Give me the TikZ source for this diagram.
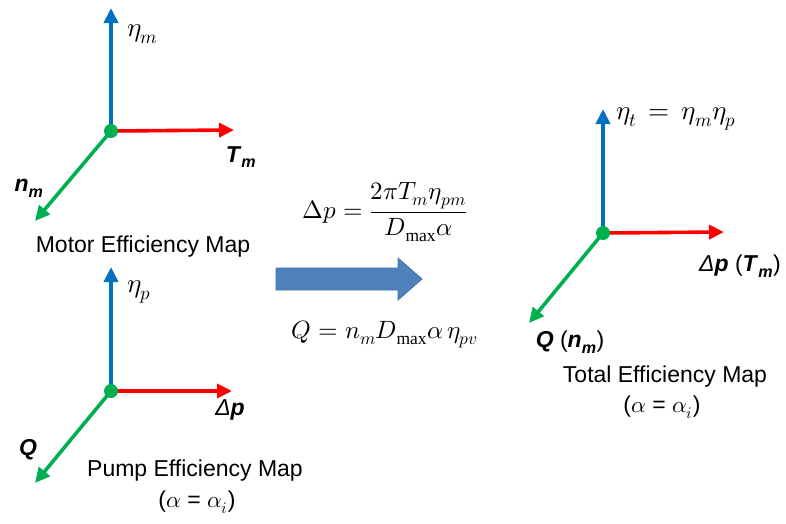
\documentclass[tikz,border=0pt]{standalone}
\usepackage{fontspec}
\usepackage{unicode-math}
\setmainfont{Liberation Sans}
\setmathrm{Liberation Serif}
\usetikzlibrary{arrows.meta}
\definecolor{axblue}{HTML}{0070C0}
\definecolor{axred}{HTML}{FF0000}
\definecolor{axgreen}{HTML}{00B050}
\definecolor{bigfill}{HTML}{4F81BD}
\definecolor{bigedge}{HTML}{41719C}
\tikzset{
  axis/.style={line width=3.6pt, -{Triangle[length=15pt,width=14pt]}},
  zax/.style={axis, axblue},
  xax/.style={axis, axred},
  yax/.style={axis, axgreen},
  origin/.style={circle, fill=axgreen, inner sep=0pt, minimum size=14pt},
  lab/.style={inner sep=1pt, font=\fontsize{23}{27}\selectfont},
  mlab/.style={inner sep=1pt, font=\fontsize{27}{31}\selectfont},
  flab/.style={inner sep=1pt, font=\fontsize{25}{29}\selectfont},
}
\newcommand{\bi}[1]{\textbf{\textit{#1}}}
\begin{document}
\begin{tikzpicture}[x=1pt,y=-1pt]
\useasboundingbox (0,0) rectangle (786,523);
% ---------- Motor ----------
\coordinate (mo) at (111,131);
\coordinate (mz) at (111,8);
\coordinate (mx) at (234,130);
\coordinate (my) at (35,221);
\draw[zax] (mo) -- (mz);
\draw[xax] (mo) -- (mx);
\draw[yax] (mo) -- (my);
\node[origin] (mdot) at (mo) {};
\node[mlab, anchor=west] (meta) at (126,34) {$\eta_m$};
\node[lab] (mT) at (241,157) {\bi{T}\textsubscript{\bi{m}}};
\node[lab] (mn) at (29,188) {\bi{n}\textsubscript{\bi{m}}};
\node[lab] (mtitle) at (143,247) {Motor Efficiency Map};
% ---------- Pump ----------
\coordinate (po) at (111,391);
\coordinate (pz) at (111,267);
\coordinate (px) at (232,391);
\coordinate (py) at (35,483);
\draw[zax] (po) -- (pz);
\draw[xax] (po) -- (px);
\draw[yax] (po) -- (py);
\node[origin] (pdot) at (po) {};
\node[mlab, anchor=west] (peta) at (126,292) {$\eta_p$};
\node[lab] (pdp) at (230,410) {\textit{Δ}\bi{p}};
\node[lab] (pQ) at (28,450) {\bi{Q}};
\node[lab] (ptitle) at (195,471) {Pump Efficiency Map};
\node[lab] (palpha) at (197,502) {(\(\alpha\) = \(\alpha_i\))};
% ---------- Big arrow ----------
\coordinate (a1) at (276,268);
\coordinate (a2) at (398,268);
\coordinate (a3) at (398,258);
\coordinate (a4) at (422,279);
\coordinate (a5) at (398,300);
\coordinate (a6) at (398,290);
\coordinate (a7) at (276,290);
\draw[fill=bigfill, draw=bigedge, line width=0.8pt, line join=miter] (a1) -- (a2) -- (a3) -- (a4) -- (a5) -- (a6) -- (a7) -- cycle;
\node[flab] (eq1) at (385,212) {$\Delta p=\dfrac{2\pi T_m\eta_{pm}}{D_{\mathrm{max}}\alpha}$};
\node[flab] (eq2) at (385,334) {$Q=n_m D_{\mathrm{max}}\alpha\,\eta_{pv}$};
% ---------- Total ----------
\coordinate (to) at (603,233);
\coordinate (tz) at (603,109);
\coordinate (tx) at (724,232);
\coordinate (ty) at (529,323);
\draw[zax] (to) -- (tz);
\draw[xax] (to) -- (tx);
\draw[yax] (to) -- (ty);
\node[origin] (tdot) at (to) {};
\node[mlab, anchor=west] (teta) at (615,119) {$\eta_t\,=\,\eta_m\eta_p$};
\node[lab] (tdp) at (740,266) {\textit{Δ}\bi{p} (\bi{T}\textsubscript{\bi{m}})};
\node[lab] (tQ) at (570,342) {\bi{Q} (\bi{n}\textsubscript{\bi{m}})};
\node[lab] (ttitle) at (665,377) {Total Efficiency Map};
\node[lab] (talpha) at (662,407) {(\(\alpha\) = \(\alpha_i\))};
\end{tikzpicture}
\end{document}
